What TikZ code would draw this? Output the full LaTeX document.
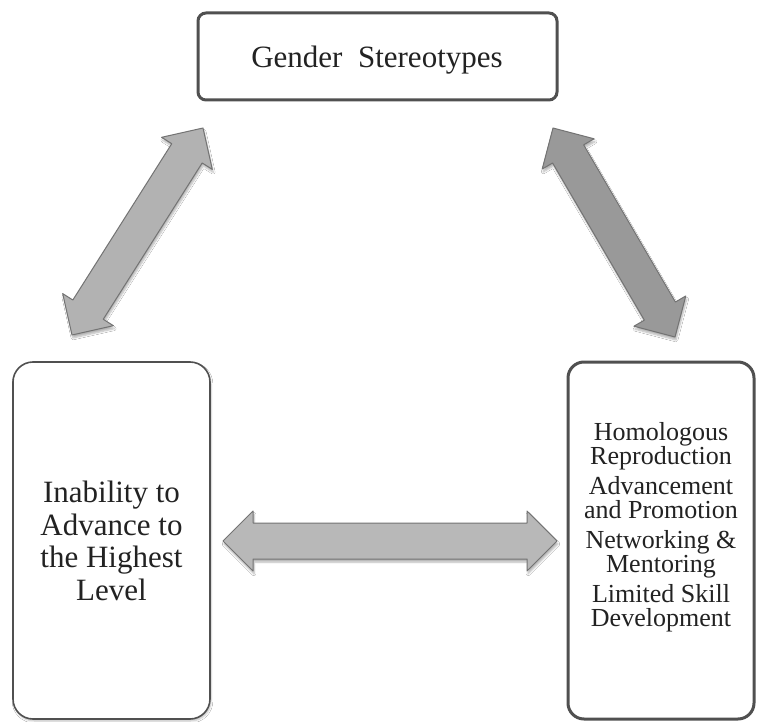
\documentclass[tikz,border=0pt]{standalone}
\usepackage{fontspec}
\setmainfont{Liberation Serif}
\usetikzlibrary{calc,shadows.blur}
\definecolor{edge}{HTML}{505050}
\definecolor{txt}{HTML}{222222}
\tikzset{
  box/.style={draw=edge, fill=white, rounded corners=#1, inner sep=0pt},
  label/.style={text=txt, inner sep=0pt, align=center},
  fatarrow/.style={draw=black!55, line width=1pt, line join=round,
    blur shadow={shadow xshift=1pt, shadow yshift=-3pt, shadow blur steps=6, shadow opacity=30}},
}
\newcommand\fatarrow[3]{%
  \coordinate (#1h) at ($(#1)!30pt!(#2)$);
  \coordinate (#2h) at ($(#2)!30pt!(#1)$);
  \draw[fatarrow, fill=#3] (#1) -- ($(#1h)!30pt!90:(#2)$) -- ($(#1h)!18pt!90:(#2)$)
    -- ($(#2h)!18pt!-90:(#1)$) -- ($(#2h)!30pt!-90:(#1)$) -- (#2)
    -- ($(#2h)!30pt!90:(#1)$) -- ($(#2h)!18pt!90:(#1)$)
    -- ($(#1h)!18pt!-90:(#2)$) -- ($(#1h)!30pt!-90:(#2)$) -- cycle;
}
\begin{document}
\lineskiplimit=-20pt
\begin{tikzpicture}[x=1pt, y=-1pt]
\useasboundingbox (0,0) rectangle (758,722);
\fill[white] (0,0) rectangle (758,722);

% boxes
\node[box=8pt, line width=3pt, minimum width=359pt, minimum height=87pt] (gs) at (377.5,56.5) {};
\node[box=20pt, line width=1.6pt, minimum width=197pt, minimum height=357pt,
      blur shadow={shadow xshift=1pt, shadow yshift=-2pt, shadow blur steps=5, shadow opacity=25}] (inab) at (111.5,540.5) {};
\node[box=16pt, line width=3pt, minimum width=186pt, minimum height=357pt] (fact) at (661,540.5) {};

% texts
\node[label, anchor=base, font=\fontsize{31}{33}\selectfont] (gst) at (377,68) {Gender\ \ Stereotypes};
\node[label, anchor=north, font=\fontsize{31}{32.5}\selectfont] (inabt) at (111.5,481)
  {Inability to\\Advance to\\the Highest\\Level};
\node[label, anchor=north, font=\fontsize{26}{24}\selectfont] (factt) at (661,422.5)
  {Homologous\\Reproduction\\[6pt]Advancement\\and Promotion\\[6pt]Networking \&\\Mentoring\\[6pt]Limited Skill\\Development};

% arrows
\coordinate (la) at (72,335);
\coordinate (lb) at (203,128);
\coordinate (ra) at (553,128);
\coordinate (rb) at (675,337);
\coordinate (ha) at (223,541);
\coordinate (hb) at (557,541);
\fatarrow{la}{lb}{black!30}
\fatarrow{ra}{rb}{black!40}
\fatarrow{ha}{hb}{black!28}
\end{tikzpicture}
\end{document}
